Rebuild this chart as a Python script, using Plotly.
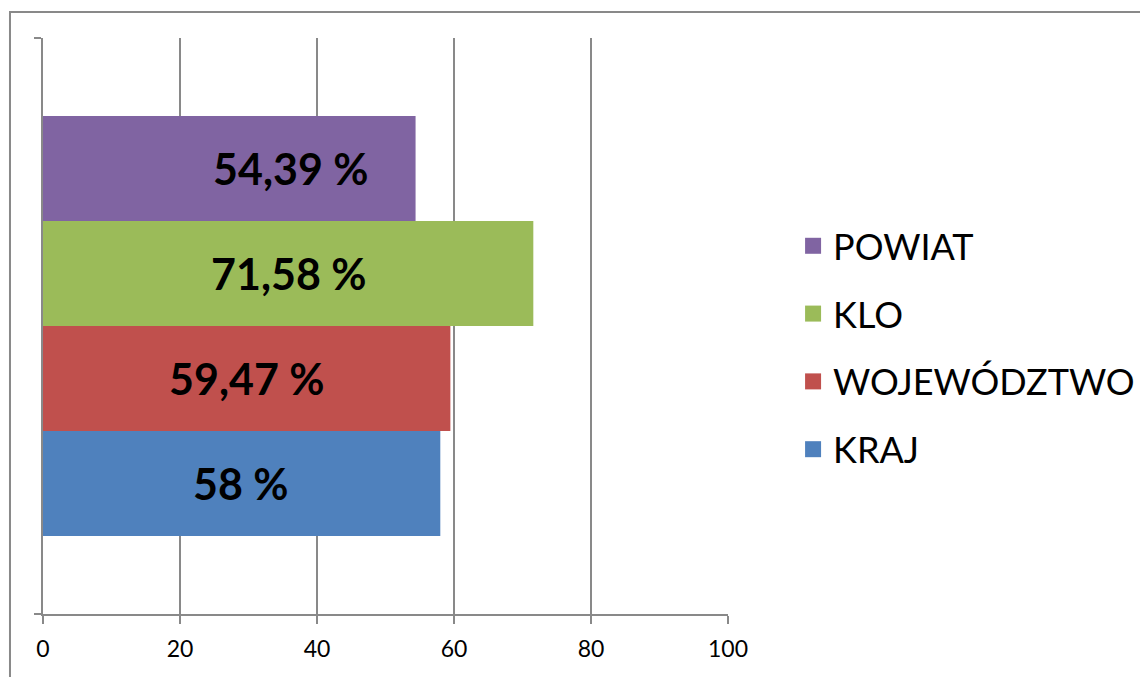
import plotly.graph_objects as go

# dane (kolejność od dołu do góry)
series = ["KRAJ", "WOJEWÓDZTWO", "KLO", "POWIAT"]
values = [58, 59.47, 71.58, 54.39]
labels = ["58 %", "59,47 %", "71,58 %", "54,39 %"]
colors = ["#4F81BD", "#C0504D", "#9BBB59", "#8064A2"]
x_ticks = [0, 20, 40, 60, 80, 100]

GRID = "#898989"
FONT = "Lato"

fig = go.Figure()
for name, val, color in zip(series, values, colors):
    fig.add_trace(go.Bar(
        x=[val], y=[0], name=name, orientation="h",
        marker=dict(color=color, line_width=0),
        hoverinfo="skip", showlegend=False,
    ))

# wpisy legendy (od góry: POWIAT ... KRAJ) - większe kwadraty niż symbol słupka
for name, color in zip(series[::-1], colors[::-1]):
    fig.add_trace(go.Scatter(
        x=[None], y=[None], name=name, mode="markers",
        marker=dict(symbol="square", size=16, color=color),
        legendgroup=name, showlegend=True,
    ))

# etykiety w słupkach - w oryginale przesunięte ręcznie, nie na środku
label_x = [28.9, 29.8, 35.9, 36.2]
group_w = 0.729
for i, (txt, lx) in enumerate(zip(labels, label_x)):
    yc = -group_w / 2 + group_w / 8 + i * group_w / 4
    fig.add_annotation(
        x=lx, y=yc, text=f"<b>{txt}</b>", showarrow=False,
        font=dict(family=FONT, size=43, color="black"),
        xanchor="center", yanchor="middle",
    )

# zewnętrzna ramka wykresu (ucięta przez krawędź obrazka)
fig.add_shape(
    type="rect", xref="paper", yref="paper",
    x0=-0.0482, x1=2, y0=-1, y1=1.045,
    line=dict(color=GRID, width=2), fillcolor="rgba(0,0,0,0)",
)

# strona ma 8px marginesu, więc figura jest o tyle mniejsza
fig.update_layout(
    width=1140, height=669,
    margin=dict(l=35, r=420, t=30, b=63, autoexpand=False),
    paper_bgcolor="white", plot_bgcolor="white",
    barmode="group", bargap=1 - group_w,
    font=dict(family=FONT, color="black"),
    showlegend=True,
    legend=dict(
        x=1.095, y=0.462, xanchor="left", yanchor="middle",
        traceorder="grouped",
        font=dict(family=FONT, size=36, color="black"),
        itemwidth=30, tracegroupgap=18,
        bgcolor="rgba(0,0,0,0)",
    ),
    xaxis=dict(
        range=[0, 100], tickvals=x_ticks, automargin=False,
        showgrid=True, gridcolor=GRID, gridwidth=2,
        zeroline=False,
        showline=True, linecolor=GRID, linewidth=2,
        ticks="outside", ticklen=8, tickcolor=GRID, tickwidth=2,
        ticklabelstandoff=5,
        tickfont=dict(family=FONT, size=23, color="black"),
    ),
    yaxis=dict(
        range=[-0.5, 0.5], tickvals=[-0.5, 0.5], ticktext=["", ""],
        automargin=False,
        showgrid=False, zeroline=False,
        showline=True, linecolor=GRID, linewidth=2,
        ticks="outside", ticklen=7, tickcolor=GRID, tickwidth=2,
    ),
)

fig.write_html("out.html")
